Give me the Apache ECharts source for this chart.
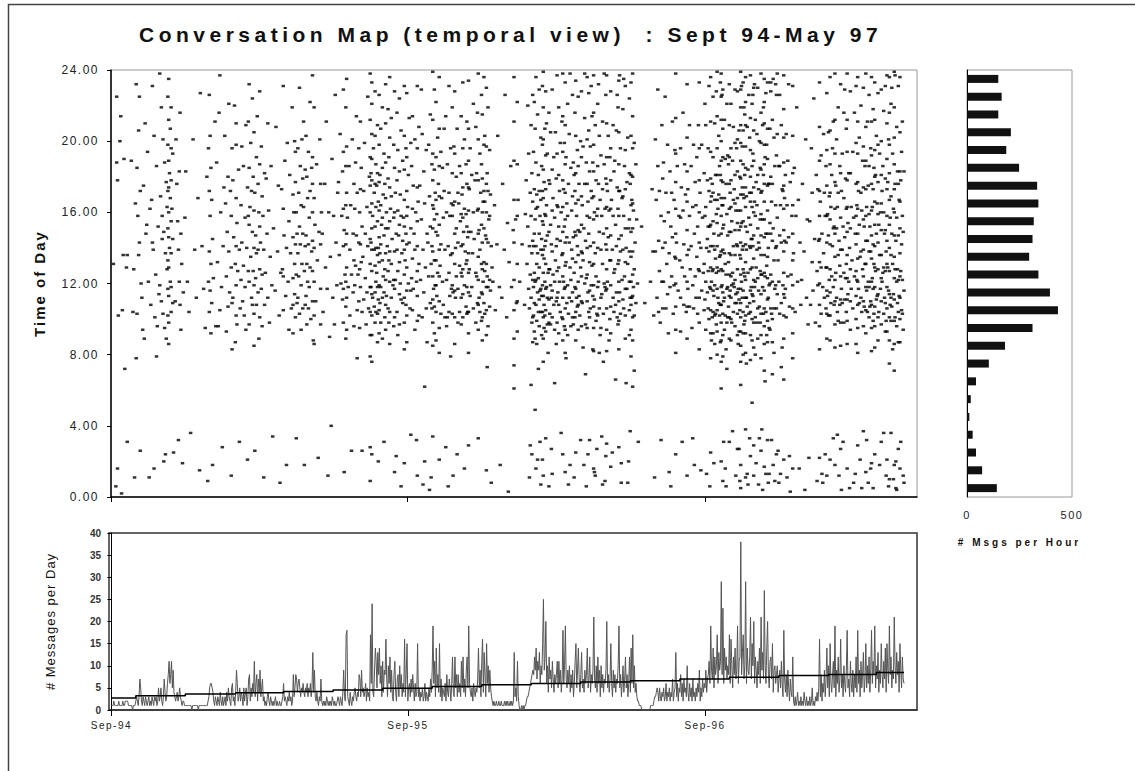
<!DOCTYPE html>
<html>
<head>
<meta charset="utf-8">
<title>Conversation Map</title>
<script src="https://cdn.jsdelivr.net/npm/echarts@6/dist/echarts.min.js"></script>
<style>
  html, body { margin: 0; padding: 0; background: #fff; }
  #chart { width: 1135px; height: 771px; }
  /* old spreadsheet look: wide letter spacing, hooked on a dummy font name */
  #chart text[style*="lsT"] { letter-spacing: 4.5px; }
  #chart text[style*="lsH"] { letter-spacing: 3px; }
  #chart text[style*="lsY"] { letter-spacing: 2px; }
  #chart text[style*="lsM"] { letter-spacing: 1px; }
  #chart text[style*="lsK"] { letter-spacing: 1.5px; }
</style>
</head>
<body>
<div id="chart"></div>
<script>
// messages per hour of day, hour 0 .. 23
const hourCounts = [142, 72, 43, 27, 11, 18, 43, 104, 181, 312, 433, 395, 340, 296, 312, 318, 340, 334, 248, 187, 209, 149, 165, 149];

// messages per day, day 0 = 1 Sep 1994
const dailyMsgs = [
  1,1,1,2,1,1,1,1,1,2, 1,1,1,1,2,1,1,2,2,2, 2,1,1,1,1,1,0,1,1,1, 2,3,2,1,3,7,5,2,1,3,
  2,1,3,2,1,2,3,1,2,1, 3,2,1,3,2,3,1,2,5,2, 3,5,2,1,3,7,4,2,3,6, 8,11,6,8,11,5,9,4,3,2,
  3,4,2,3,5,3,2,1,2,2, 1,1,1,1,1,1,1,1,1,0, 1,1,1,1,1,1,1,0,1,1, 1,1,1,1,1,1,1,1,1,2,
  3,5,6,6,5,4,2,1,3,2, 1,3,2,1,4,2,1,3,1,2, 3,1,4,2,5,3,2,1,5,6, 2,3,1,4,9,6,2,3,5,2,
  4,3,1,5,2,4,5,1,3,7, 8,2,5,3,6,4,11,3,6,8, 2,7,4,9,3,5,7,2,3,1, 2,1,3,4,2,1,3,2,1,2,
  1,2,3,1,2,1,1,2,1,1, 2,3,6,2,3,2,1,3,2,4, 2,3,1,2,8,3,5,8,7,4, 6,7,5,3,5,4,6,4,3,5,
  4,6,3,5,4,6,3,5,13,4, 9,3,2,4,2,1,3,2,7,2, 1,2,1,2,1,3,2,1,2,1, 2,1,3,2,1,2,1,1,2,3,
  2,1,3,2,1,4,9,3,2,17, 18,3,2,1,4,2,1,3,2,4, 5,3,2,4,3,8,7,3,9,4, 5,3,4,6,2,5,3,4,2,17,
  6,24,4,3,9,14,11,5,13,8, 14,6,10,3,11,4,9,8,16,7, 3,10,6,12,4,9,3,2,8,11, 4,2,7,8,3,10,5,8,3,6,
  4,16,3,8,15,2,5,6,3,7, 4,8,5,2,6,3,4,15,3,5, 2,4,3,5,2,3,6,2,4,3, 2,5,3,7,4,9,19,6,11,3,
  14,5,8,4,15,3,7,2,5,4, 3,6,2,8,4,3,7,5,2,6, 12,4,3,12,5,8,3,8,4,6, 3,11,5,12,4,7,3,9,12,5,
  19,6,4,3,5,2,6,4,3,5, 4,7,14,5,9,3,11,16,4,13, 8,3,15,6,10,4,9,5,3,2, 1,2,1,1,2,1,1,2,1,1,
  2,1,1,1,2,1,2,1,2,1, 1,2,1,2,1,2,13,3,5,2, 11,3,1,0,0,1,0,1,0,1, 1,2,3,3,4,5,6,7,8,9,
  8,12,9,14,7,11,9,13,6,10, 8,15,25,9,12,20,6,10,4,12, 7,9,5,11,7,4,8,6,8,11, 5,11,6,9,4,7,18,6,10,19,
  7,5,9,6,10,4,8,5,9,3, 6,11,15,5,9,14,7,4,8,13, 5,7,4,9,6,8,14,5,7,12, 4,8,6,9,21,7,5,10,4,12,
  6,9,3,10,5,8,4,7,6,9, 20,5,8,4,7,15,6,3,9,5, 8,4,7,6,10,19,5,8,3,6, 10,4,7,12,5,8,3,6,12,4,
  14,6,17,5,10,4,6,3,2,2, 1,1,1,0,0,0,0,0,0,0, 0,0,0,0,1,1,1,1,2,3, 3,4,5,4,2,5,3,2,4,3,
  5,2,3,6,2,4,3,5,2,4, 3,7,2,4,5,13,3,6,2,5, 4,8,3,6,2,7,4,5,3,10, 4,2,6,3,5,2,7,3,4,2,
  5,3,6,4,9,2,5,3,7,4, 6,5,9,4,7,8,11,6,19,9, 7,14,5,12,8,10,17,6,13,9, 11,29,8,23,6,14,9,12,7,10,
  8,17,6,16,10,5,12,8,14,7, 9,19,6,11,12,38,8,13,17,7, 10,29,6,14,9,8,12,21,7,15, 10,20,6,12,9,5,11,8,14,6,
  21,9,13,7,27,10,6,14,20,8, 5,11,12,7,15,4,9,10,6,8, 10,4,7,9,5,11,6,3,18,7, 4,8,3,9,5,2,7,4,3,12,
  2,1,3,1,2,4,1,2,1,3, 1,2,1,4,2,1,3,1,2,1, 3,1,2,5,1,2,1,3,2,4, 2,5,16,3,8,2,6,4,9,3,
  7,14,5,10,3,15,6,4,8,11, 5,19,3,9,6,12,4,7,16,5, 8,3,10,6,4,9,18,5,7,3, 11,6,4,9,3,8,5,12,4,18,
  6,9,3,11,5,8,13,4,7,15, 5,10,6,12,4,9,18,6,11,8, 19,5,10,7,13,4,9,6,15,8, 5,11,7,14,4,15,9,6,19,8,
  12,5,9,7,21,10,6,13,8,11, 4,15,9,5,12,7,6
];

// stepped trend of the daily count: start day of each step and its level
const trendDays = [0, 30, 91, 153, 212, 273, 334, 395, 456, 517, 578, 639, 700, 761, 822, 883, 942, 976];
const trendVals = [2.7, 3.2, 3.6, 3.9, 4.2, 4.5, 4.9, 5.3, 5.7, 6.0, 6.3, 6.6, 7.0, 7.4, 7.8, 8.0, 8.5, 8.5];

// single messages, in 10-day bins: each token is day-in-bin digit + hour of day x10
const dotBins = [
  "7225 7188 8178 9102 8016 6006 3131",
  "6190 2214 5136 9129 4105 7072 1200 3002",
  "5189 0136 8128 7104 0031 9011",
  "0165 1078 5225 4206 2185 6172 3158 5143 7120 8112 2103 9094 4136 6026 1232",
  "2210 5194 0175 8162 3148 6121 9108 1089 4153 7011",
  "1231 3203 6186 0167 8152 2139 5125 9114 4101 7096 1143 6079 3016",
  "0238 2219 4201 6188 8177 1169 3158 5149 7137 9128 0119 2110 4103 6095 8089 3145 5020 7024 9163",
  "0225 0198 0172 0151 0133 0117 0102 1235 1212 1189 1174 1160 1146 1129 1113 1098 1086 2182 2140 3207 3168 3121 4219 4196 4178 4155 4137 4118 4104 5162 6193 6145 6109 7025 9110",
  "0201 1176 2155 3139 4121 4183 5108 5216 6094 6148 7131 8019 9115 3032",
  "2183 4121 6104 8036 1157",
  "1201 3139 5112 7168 9015",
  "0227 2141 4117 6095 8180 9009",
  "0196 0121 1226 1172 1138 1104 2203 2158 2116 3185 3131 3092 4167 4109 5145 5018 6123 8211 9096",
  "0188 1132 3216 4105 5160 6118 7028 8141 9174 2096 4237",
  "0203 1165 2124 2093 3149 4180 4107 5221 5138 6115 7172 8012 8158 8129 9196 9109 9083",
  "0178 0112 1146 2220 3131 3087 4198 4168 4141 4119 4102 4210 5154 5097 6127 7184 8139 8031 9106",
  "0164 0122 1197 1143 2110 3186 3130 4102 5157 5118 6209 6094 7140 8174 8021 9127 9158 9211",
  "0232 0185 0153 0121 0097 1163 2199 2135 3172 3112 4224 4149 4108 5180 5127 6205 6161 6140 6119 6103 6085 7171 8147 8123 9191 9137 9108 7026",
  "0214 1176 1139 1115 2160 3228 3187 3152 3128 3101 4143 5197 5117 6169 6125 6096 7158 8011 8139 9182 9108 2089",
  "0126 1179 2148 3210 3112 4161 5098 6135 7186 8119 9034",
  "0151 2116 3208 5138 6175 7102 8008 9126",
  "0173 1128 2231 2162 2124 2105 3147 4189 5113 6140 6018 7199 8121 9155 9094",
  "0181 1137 2106 3219 4170 4146 4123 4108 4092 5160 6200 6131 6114 7177 7142 7101 7194 8125 8160 8033 9148 9109",
  "0196 0137 0112 1171 1124 2230 2152 2103 3186 3142 4164 4119 4094 5201 5131 6179 6148 6106 7211 7163 8127 8018 9184 9141 9108",
  "0203 0147 0113 1180 1131 1097 2168 2121 3194 3142 3106 4157 4118 5222 5172 5129 6100 7185 7138 8237 8191 8176 8160 8144 8127 8110 9088",
  "0219 0168 0140 0121 0102 0086 1153 2110 3187 4133 5022 6149 7201 8176 8142 8117 8097 9160",
  "0148 1104 3176 4129 5211 6117 7012 8160 9090",
  "0135 2190 3112 4158 5097 6226 7143 8119 9171 1040",
  "0177 1136 2204 3120 4158 5183 5111 6229 6194 6162 6141 6117 6098 7150 8125 9219 9186 9164 9142 9121 9107 9089 7014",
  "0235 0197 0171 0148 0129 0112 0094 1157 2118 3186 4139 4102 5164 6125 7201 8148 8115 9176 9133 9096 6026",
  "0162 0119 1188 1130 2214 2147 3105 3171 4125 5143 5196 5110 6160 6128 6095 7211 7173 7142 7118 8185 8132 9152 9104 9026 3078",
  "0135 1172 1111 2199 3148 3123 4097 5163 5115 6225 6141 7106 8180 9238 9212 9191 9175 9160 9145 9131 9118 9104 9091 9079 9028 9009",
  "0182 0143 0118 1233 1221 1204 1190 1178 1165 1151 1139 1127 1114 1102 1091 1076 1024 2158 2112 3196 4171 4139 4107 5228 5203 5176 5152 5130 5115 5098 6187 6163 6140 6121 6104 7175 7126 8209 8182 8155 8136 8118 8103 8087 9166 9140 9111 9020",
  "0226 0198 0177 0161 0146 0132 0119 0105 0092 1181 1137 1109 2207 2164 2142 2118 2098 3153 4219 4185 4157 4133 4112 4089 5170 5124 6193 6147 6115 6031 7176 7128 7101 8232 8210 8188 8168 8151 8137 8122 8108 8094 9160 9113",
  "0141 1218 1179 1151 1127 1106 2191 2133 2098 3236 3202 3174 3155 3138 3121 3104 3086 4162 5213 5169 5131 5112 6145 7119 8198 8157 8122 8096 9228 9185 9160 9138 9117 9101 9014",
  "0171 0122 1148 2216 2178 2139 2104 3195 3161 3127 3091 4147 5224 5183 5153 5132 5114 5097 6170 6120 7206 7158 7111 8137 9189 9144 9109 1023 7006",
  "0157 1231 1203 1184 1167 1152 1139 1125 1112 1098 1083 1019 2133 3196 3148 3108 4227 4191 4172 4158 4142 4129 4116 4102 4087 5163 6181 6120 7213 7143 8106 9199 9151 9116 9035",
  "0186 0123 1214 1162 1134 1105 2175 2117 3148 4201 4139 4094 5160 6121 7231 7196 7174 7155 7141 7127 7113 7099 7012 8166 9208 9131 9102 6032",
  "0175 1122 2156 3204 3101 4139 5183 5115 6165 6020 7129 8195 8106 9148 9087 2229 4007 6062",
  "0143 1198 1124 2169 3215 3152 3109 4131 5187 5141 5106 6239 6212 6193 6178 6164 6151 6138 6124 6111 6098 6085 6034 7162 7117 8229 8184 8156 8133 8107 8092 9171 9119 4011 2004",
  "0222 0191 0167 0149 0133 0119 0104 0088 1159 1113 2202 2147 2126 3176 4236 4207 4186 4169 4153 4139 4124 4110 4095 4081 4021 5130 6194 6142 6103 7168 8185 8121 9157 9108",
  "0172 1139 1101 2214 3160 3122 3096 4187 5141 6231 6171 6126 6104 7158 7113 8196 8136 9165 9117 2028 5006 8079 4101 0207",
  "0219 0182 0158 0137 0119 0103 1164 1115 2197 3228 3193 3166 3148 3131 3116 3101 3086 4140 4112 5180 5151 5124 6207 7171 7143 7117 7098 8165 9186 9130 9104 1012 6024",
  "0155 1214 1182 1159 1141 1126 1112 1097 2170 2124 3233 3196 3174 3157 3142 3128 3114 3101 4149 5201 5162 5119 6138 7187 7159 7131 7107 8211 8176 8152 8133 8118 8103 9146 9104 5016",
  "0234 0207 0189 0174 0161 0149 0137 0126 0115 0104 0092 0081 0029 1173 1128 2196 2113 3149 4181 4118 5137 6221 6160 6106 7145 8178 9208 9126 9098",
  "0182 0124 1216 1161 1109 2238 2201 2178 2162 2148 2135 2122 2108 2094 2033 3150 3112 4193 4139 4104 5171 6226 6187 6153 6131 6115 6099 7215 7179 7160 7143 7128 7114 7101 7088 8166 8121 9236 9198 9172 9151 9132 9109",
  "0203 0166 0127 0103 1147 2230 2197 2176 2160 2145 2131 2118 2105 2091 2015 3182 3124 4219 4172 4143 4118 4096 5156 6195 6158 6122 6107 7170 7116 8141 8008 9129 3073",
  "0121 2164 3105 5142 6203 8118 9018",
  "1112 2176 4139 5226 7101 8154 9003",
  "0132 2186 3118 5150 6236 6211 6189 6167 6143 6122 6105 6089 6074 6061 8156 9109",
  "0222 0187 0158 0131 0110 0093 1167 3121 6142 9108",
  "1178 2131 3152 4117 4193 5141 5106 6171 6125 6029 7209 7158 7112 8137 8182 8098 9226 9166 9144 9122 9101 9087 3220 5011 7063 8024 0159",
  "0194 0141 0118 0102 1222 1173 1148 1126 1109 1093 2207 2156 2121 2089 3236 3188 3162 3141 3122 3108 3016 4170 4131 4099 5215 5163 5137 5115 5021 6181 6123 6104 7229 7172 7148 7129 7111 7096 8158 8116 8031 9202 9167 9139 9117 9104 9007 2049 6072 4086",
  "0186 0145 0113 0091 1231 1198 1172 1155 1136 1119 1104 1021 2239 2219 2201 2184 2168 2153 2139 2126 2113 2101 2089 2076 2012 3177 3134 3108 3095 4207 4159 4121 4102 5228 5192 5173 5158 5144 5131 5117 5105 5093 5033 6164 6118 7193 7147 7112 7097 8126 8081 9216 9178 9149 9128 9111 9098 9006 6210 4141",
  "0176 0128 0103 1205 1153 1119 1097 2142 2112 3229 3184 3161 3138 3116 3101 3013 4168 4125 5191 5108 6157 6121 6094 7205 7133 8179 8141 8110 8086 9237 9193 9164 9145 9127 9112 9098 2027 6064",
  "0163 0115 1219 1181 1152 1129 1108 1092 2172 2121 3199 3144 3104 4160 5211 5136 5101 6238 6214 6194 6178 6163 6149 6137 6124 6112 6100 6088 6024 7173 7121 8199 8152 8117 8096 9233 9209 9187 9171 9156 9143 9130 9118 9106 9094 9081 9014 4036",
  "0191 0132 1165 1109 2221 2158 2119 3176 3103 4204 4143 5129 5018 6185 6122 7161 7110 8226 8169 8134 8101 9146 9097 0078 3007 5238 6096 7139 8115 9188 2091 4112 1146",
  "0181 0126 1216 1172 1149 1118 1101 2234 2203 2182 2165 2147 2132 2117 2104 2088 2025 3158 3112 4195 4141 4107 5225 5186 5167 5150 5136 5121 5108 5094 6176 6113 7149 7102 8200 8129 8032 9228 9191 9169 9153 9138 9124 9110 9096 0011",
  "0164 0109 1197 1133 2151 3213 3176 3120 4144 4097 5188 5123 6236 6201 6176 6158 6140 6125 6110 6095 7166 7115 8206 8148 8104 9183 9157 9132 9116 9101 9032 2018 4069 1084 7024 8227 3238 5006 0137",
  "0197 0141 0106 1172 1119 2214 2130 3188 3113 4237 4216 4198 4183 4169 4156 4143 4131 4119 4107 4095 4082 4016 5160 5111 6209 6137 7178 7124 7099 8158 8027 9221 9186 9162 9140 9118 9102 3083 6012 1231 2168 8103 5014",
  "0176 0121 1203 1149 1106 2167 3192 3139 3112 3095 4158 4114 5211 5173 5131 6148 6103 7187 7120 8162 8118 9226 9179 9142 9116 9023 2091 4034 6076 8009 0232 5007 7238 1081",
  "0237 0210 0191 0176 0163 0151 0139 0128 0117 0106 0094 0082 0030 1172 1121 2203 2146 3161 4191 4133 4100 5228 5196 5178 5162 5147 5133 5119 5107 5092 5017 6167 7139 8209 8158 8112 9183 9126 9104 3088 7025",
  "0189 0128 1153 1108 2206 2141 2115 3174 3101 4219 4162 4131 4097 5234 5205 5187 5172 5158 5145 5133 5121 5110 5099 5083 5028 6172 6115 7196 7138 7103 8147 8019 9168 9122 1066 3226 6237 8008",
  "0218 0169 0139 0111 1158 1106 2186 2124 3231 3195 3173 3151 3132 3117 3102 3089 4140 5177 5117 6202 6131 7151 7020 8224 8182 8156 8138 8121 8105 8091 9176 9112 4064 6008 1235 9037",
  "0233 0203 0181 0164 0149 0135 0121 0108 0094 0079 1167 1112 2238 2214 2196 2180 2165 2151 2138 2125 2113 2101 2088 2062 3161 3118 4199 4128 4102 4071 5143 6187 6109 7156 8120 9031",
  "3152 7109",
  "4121 6173 7138 8102 9011",
  "0201 0138 1167 2112 3229 3186 4144 4104 5172 5127 6098 7158 7032 8121 8209 9179 9140 9106",
  "0188 0121 1155 2225 2143 3106 3171 4131 5198 5114 6160 6092 7137 7014 8183 8118 9152 9006",
  "0171 0124 1211 1146 2103 3167 3119 4195 4135 5238 5213 5193 5177 5162 5148 5134 5120 5107 5094 5081 5024 6143 7186 8116 9158",
  "0133 1196 1157 1112 1093 2174 3129 3031 4216 4161 5108 5142 6187 6124 7170 8104 9232 9202 9183 9166 9150 9136 9121 9107 9089 9012",
  "0173 0117 1139 2209 2158 2107 3128 4186 4141 5095 6163 6119 6033 7198 7106 8148 9177 9124 8018",
  "0164 0112 1191 1135 2152 2103 3209 3128 4233 4196 4178 4160 4143 4127 4112 4098 4083 5171 6140 6015 7198 7116 8157 9126",
  "0182 0131 0105 1158 1111 2209 2163 2121 2094 3140 4178 4115 5196 5152 5127 5106 6231 6172 6138 6100 7152 7118 8236 8211 8194 8179 8166 8153 8141 8129 8117 8105 8092 8078 8025 9169 9121 9088 3013 7006 1221 4145",
  "0176 0127 0101 1225 1191 1171 1155 1141 1128 1116 1104 1092 2148 2113 3210 3167 3139 3119 3102 3086 4181 4134 4103 5228 5159 5126 5097 6239 6214 6196 6181 6167 6154 6141 6129 6117 6105 6093 6080 7162 7112 8203 8170 8147 8127 8109 9186 9135 9102 2019",
  "0181 0136 0108 0087 1238 1225 1212 1200 1189 1178 1168 1158 1148 1138 1128 1118 1108 1098 1088 1076 1061 1020 2164 2119 3229 3207 3191 3177 3164 3151 3139 3127 3115 3103 3091 3079 3009 4153 4110 5212 5168 5137 5112 5094 6190 6131 6102 7176 7125 7083 8221 8159 8117 8098 9192 9147 9118 9101 4031 6016 2226 8072 0233 7006",
  "0187 0132 0107 1232 1209 1191 1176 1162 1149 1137 1125 1113 1101 1089 1031 2171 2116 3221 3196 3178 3163 3149 3136 3124 3112 3100 3088 4155 4119 4098 5189 5126 6208 6167 6141 6120 6104 7173 7118 8229 8199 8181 8165 8150 8136 8122 8109 8096 9161 9114 9012 5037",
  "0196 0142 0109 1228 1201 1183 1168 1154 1141 1128 1115 1103 1091 1027 2161 2117 3206 3150 3111 3093 4180 4136 4105 5239 5229 5219 5209 5199 5189 5179 5170 5161 5152 5143 5134 5125 5117 5109 5101 5093 5085 5076 5063 5018 5005 6154 6121 7197 7139 7112 8233 8206 8187 8170 8155 8141 8128 8116 8104 8092 8080 9168 9126 9097 2086 4009 6231 9219 3027 7174",
  "0181 0124 0099 1236 1222 1209 1197 1185 1174 1163 1152 1142 1132 1122 1112 1102 1092 1081 1038 1011 2169 2112 3208 3149 3107 4184 4126 5157 5103 6202 6141 6109 7237 7213 7195 7180 7166 7153 7140 7128 7116 7104 7091 7077 7023 8171 8118 9221 9186 9163 9145 9129 9114 9100 9088 3013 5226 8145 2075 0215 4007 6033 9053 2139 6171",
  "0193 0141 0113 1230 1206 1189 1174 1160 1147 1134 1122 1110 1098 1084 1029 2166 2118 3212 3158 3121 3101 4177 4129 5204 5139 5098 6230 6181 6151 6123 6106 7173 7116 8200 8140 8107 9185 9127 9098 4019 7007 2232 5164 8033 1012 3080 6089 9156 0226 7143",
  "0238 0216 0199 0184 0171 0159 0147 0136 0125 0114 0103 0091 0078 0026 1172 1125 2209 2156 2118 3181 3103 4235 4222 4210 4198 4187 4176 4166 4156 4146 4136 4126 4116 4106 4096 4086 4071 4017 5191 5124 6227 6148 6104 7198 7130 8233 8207 8190 8175 8161 8148 8135 8123 8111 8099 8087 8032 9176 9112 3219 6013 9008 1038 5065 7091 2004 9140",
  "0176 0119 0095 1207 1154 1120 2228 2180 2148 2125 2106 3166 3103 4212 4176 4144 4121 4100 4087 5151 6202 6133 6106 7186 7117 8232 8164 8119 9192 9141 9106 0013 3032 5018 7009 9024 1094 4069 6081 8140 2233 5235 9226",
  "0204 0157 0114 1133 2186 2121 3226 3147 3103 4164 5209 5143 5109 6173 7119 8237 8218 8202 8188 8175 8162 8150 8138 8126 8114 8102 8089 8066 8021 9168 9112 1026 4013 6084 0238 2008 5073 7172 3186 9144",
  "0181 0117 1204 1143 1101 2164 3189 3124 4146 5107 5023 6177 7125 8158 9231 9203 9182 9164 9148 9133 9119 9106 9092 9078 9016 2011 6003 4232",
  "0137 1185 2104 3158 4219 5121 6167 7016 8143 9108",
  "0122 1176 3138 4004 5201 6112 7156 8097 9022",
  "0155 1108 2196 3132 3171 4116 5224 6145 7098 8181 9127 9009",
  "0173 0119 1144 2233 2208 2189 2172 2158 2145 2132 2120 2108 2096 2083 2022 3166 4192 4129 4103 5148 6118 6008 7204 7137 8171 8112 9158 9024 5013",
  "0186 0129 0106 1227 1195 1175 1158 1143 1129 1116 1103 1089 1012 2159 2113 3205 3147 3102 4169 4122 5236 5206 5187 5171 5156 5142 5128 5115 5102 5088 5021 6163 6109 7181 7124 8196 8141 9211 9151 9118 9033",
  "0152 0108 1238 1212 1193 1177 1162 1148 1135 1122 1110 1097 1084 1018 2175 2126 3201 3151 3112 4163 4104 5219 5171 5136 5099 6144 6012 7186 7130 7108 8232 8182 8157 8139 8124 8111 8098 8085 8027 9172 9117 9004 4035",
  "0193 0139 0109 1152 1031 2216 2168 2126 2098 3146 3111 4179 4123 5207 5162 5131 5104 6238 6212 6194 6178 6163 6149 6136 6123 6111 6099 6086 6016 7154 7114 8182 8121 9140 9005 3229",
  "0228 0182 0151 0128 0110 0094 1163 1117 2133 3194 3106 4157 5216 5124 6148 6013 7231 7199 7176 7158 7142 7127 7113 7100 7086 8164 8122 9236 9211 9193 9177 9162 9148 9134 9121 9108 9095 9081 9029 4008",
  "0172 0117 1202 1153 1109 2135 3220 3171 3138 3112 4161 4104 5189 5128 6230 6197 6174 6156 6139 6124 6110 6096 6037 7152 7107 8186 8131 9238 9208 9189 9173 9158 9144 9131 9118 9105 9092 9014 2021 4005",
  "0163 0116 1211 1144 1104 2175 2121 3226 3186 3159 3138 3118 3101 4152 4107 5196 5138 5110 6236 6211 6192 6176 6161 6147 6134 6121 6108 6095 6082 6019 7163 7123 8218 8173 8142 8117 8099 9185 9131 9103 0032 2008 5016 8005",
  "0233 0212 0195 0180 0166 0153 0141 0129 0118 0107 0096 0084 0024 1181 1127 2203 2148 2111 3165 3113 4227 4198 4177 4159 4143 4128 4114 4101 4088 5153 5104 6193 6136 6018 7160 7117 8229 8200 8181 8165 8150 8136 8123 8110 8097 8031 9172 9121",
  "0186 0126 1217 1160 1129 1103 2148 2112 3231 3179 3150 3127 3109 3093 4138 4099 5237 5210 5190 5173 5158 5144 5131 5118 5106 5093 5021 6177 6129 7201 7116 8236 8216 8198 8182 8167 8153 8140 8127 8114 8101 8088 8075 8010 9157 9108 1036 4012 7006",
  "0221 0169 0136 0112 0099 1148 1107 2193 2131 3162 3114 4239 4219 4202 4187 4173 4160 4147 4135 4123 4111 4099 4086 4071 4018 5176 5128 5101 6144 6020 7208 7157 7121 7096 8183 8128 9231 9176 9147 9122 9104 9087 9027 3010 6005 1230 8109 2083 5237 7004 0036",
  "0167 0113 1236 1205 1183 1166 1151 1137 1124 1112 1100 1087 1016 2178 2127 3194 3142 3105 4211 4158 4122 4103 5149 5094 6183 6116 6008 2031 5012"
];

// axis ticks under the timeline
const tickDays = [0, 365, 731];
const tickNames = ['Sep-94', 'Sep-95', 'Sep-96'];
const hourNames = hourCounts.map((v, i) => String(i));

const dots = [];
dotBins.forEach((bin, i) => {
  bin.split(' ').forEach(t => dots.push([i * 10 + Number(t[0]), Number(t.slice(1)) / 10]));
});

const chart = echarts.init(document.getElementById('chart'), null, { renderer: 'svg' });

const labelFont = 'Arial, lsK';

const option = {
  animation: false,
  backgroundColor: '#fff',
  title: {
    text: 'Conversation Map (temporal view)  : Sept 94-May 97',
    left: 134,
    top: 19,
    textStyle: { fontFamily: 'Arial, lsT', fontSize: 21, fontWeight: 'bold', color: '#111' }
  },
  graphic: [
    {
      type: 'rect',
      silent: true,
      shape: { x: 8.5, y: 4.5, width: 1200, height: 800 },
      style: { fill: 'none', stroke: '#444', lineWidth: 1.5 }
    }
  ],
  grid: [
    { left: 111, top: 70, width: 806, height: 427, show: true, borderColor: '#999', borderWidth: 1 },
    { left: 967, top: 70, width: 105, height: 427, show: true, borderColor: '#999', borderWidth: 1 },
    { left: 109, top: 533, width: 808, height: 177, show: true, borderColor: '#333', borderWidth: 1.5 }
  ],
  xAxis: [
    {
      gridIndex: 0,
      type: 'value',
      min: 0,
      max: 992,
      axisLine: { lineStyle: { color: '#000', width: 1.5 } },
      axisTick: { customValues: tickDays, length: 5, lineStyle: { color: '#000' } },
      axisLabel: { show: false },
      splitLine: { show: false }
    },
    {
      gridIndex: 1,
      type: 'value',
      min: 0,
      max: 500,
      interval: 500,
      name: '# Msgs per Hour',
      nameLocation: 'middle',
      nameGap: 40,
      nameTextStyle: { fontFamily: 'Arial, lsH', fontSize: 10, fontWeight: 'bold', color: '#111' },
      axisLine: { lineStyle: { color: '#000', width: 1 } },
      axisTick: { length: 4, lineStyle: { color: '#000' } },
      axisLabel: { margin: 12, fontFamily: labelFont, fontSize: 11, color: '#222' },
      splitLine: { show: false }
    },
    {
      gridIndex: 2,
      type: 'value',
      min: -3,
      max: 992,
      axisLine: { lineStyle: { color: '#333', width: 1.5 } },
      axisTick: { customValues: tickDays, length: 6, lineStyle: { color: '#000' } },
      axisLabel: {
        customValues: tickDays,
        margin: 10,
        fontFamily: labelFont,
        fontSize: 10,
        color: '#222',
        formatter: v => tickNames[tickDays.indexOf(v)]
      },
      splitLine: { show: false }
    }
  ],
  yAxis: [
    {
      gridIndex: 0,
      type: 'value',
      min: 0,
      max: 24,
      interval: 4,
      name: 'Time of Day',
      nameLocation: 'middle',
      nameGap: 64,
      nameTextStyle: { fontFamily: 'Arial, lsY', fontSize: 15, fontWeight: 'bold', color: '#111' },
      axisLine: { show: true, lineStyle: { color: '#000', width: 1.5 } },
      axisTick: { show: true, length: 4, lineStyle: { color: '#000' } },
      axisLabel: { margin: 12, fontFamily: labelFont, fontSize: 12, color: '#222', formatter: v => v.toFixed(2) },
      splitLine: { show: false }
    },
    {
      gridIndex: 1,
      type: 'category',
      data: hourNames,
      axisLine: { show: true, lineStyle: { color: '#000', width: 1 } },
      axisTick: { show: false },
      axisLabel: { show: false },
      splitLine: { show: false }
    },
    {
      gridIndex: 2,
      type: 'value',
      min: 0,
      max: 40,
      interval: 5,
      name: '# Messages per Day',
      nameLocation: 'middle',
      nameGap: 52,
      nameTextStyle: { fontFamily: 'Arial, lsM', fontSize: 13, color: '#111' },
      axisLine: { show: true, lineStyle: { color: '#000', width: 1 } },
      axisTick: { show: true, length: 4, lineStyle: { color: '#000' } },
      axisLabel: { margin: 8, fontFamily: 'Arial', fontSize: 10, fontWeight: 'bold', color: '#333' },
      splitLine: { show: false }
    }
  ],
  series: [
    {
      name: 'Messages',
      type: 'scatter',
      xAxisIndex: 0,
      yAxisIndex: 0,
      symbol: 'rect',
      symbolSize: [3.5, 2.5],
      itemStyle: { color: '#000' },
      data: dots
    },
    {
      name: 'Per hour',
      type: 'bar',
      xAxisIndex: 1,
      yAxisIndex: 1,
      barWidth: 8,
      itemStyle: { color: '#111' },
      data: hourCounts
    },
    {
      name: 'Per day',
      type: 'line',
      xAxisIndex: 2,
      yAxisIndex: 2,
      showSymbol: false,
      lineStyle: { color: '#555', width: 1 },
      data: dailyMsgs.map((v, i) => [i, v])
    },
    {
      name: 'Trend',
      type: 'line',
      xAxisIndex: 2,
      yAxisIndex: 2,
      step: 'end',
      showSymbol: false,
      lineStyle: { color: '#000', width: 1.5 },
      data: trendDays.map((d, i) => [d, trendVals[i]])
    }
  ]
};

chart.setOption(option);
</script>
</body>
</html>
